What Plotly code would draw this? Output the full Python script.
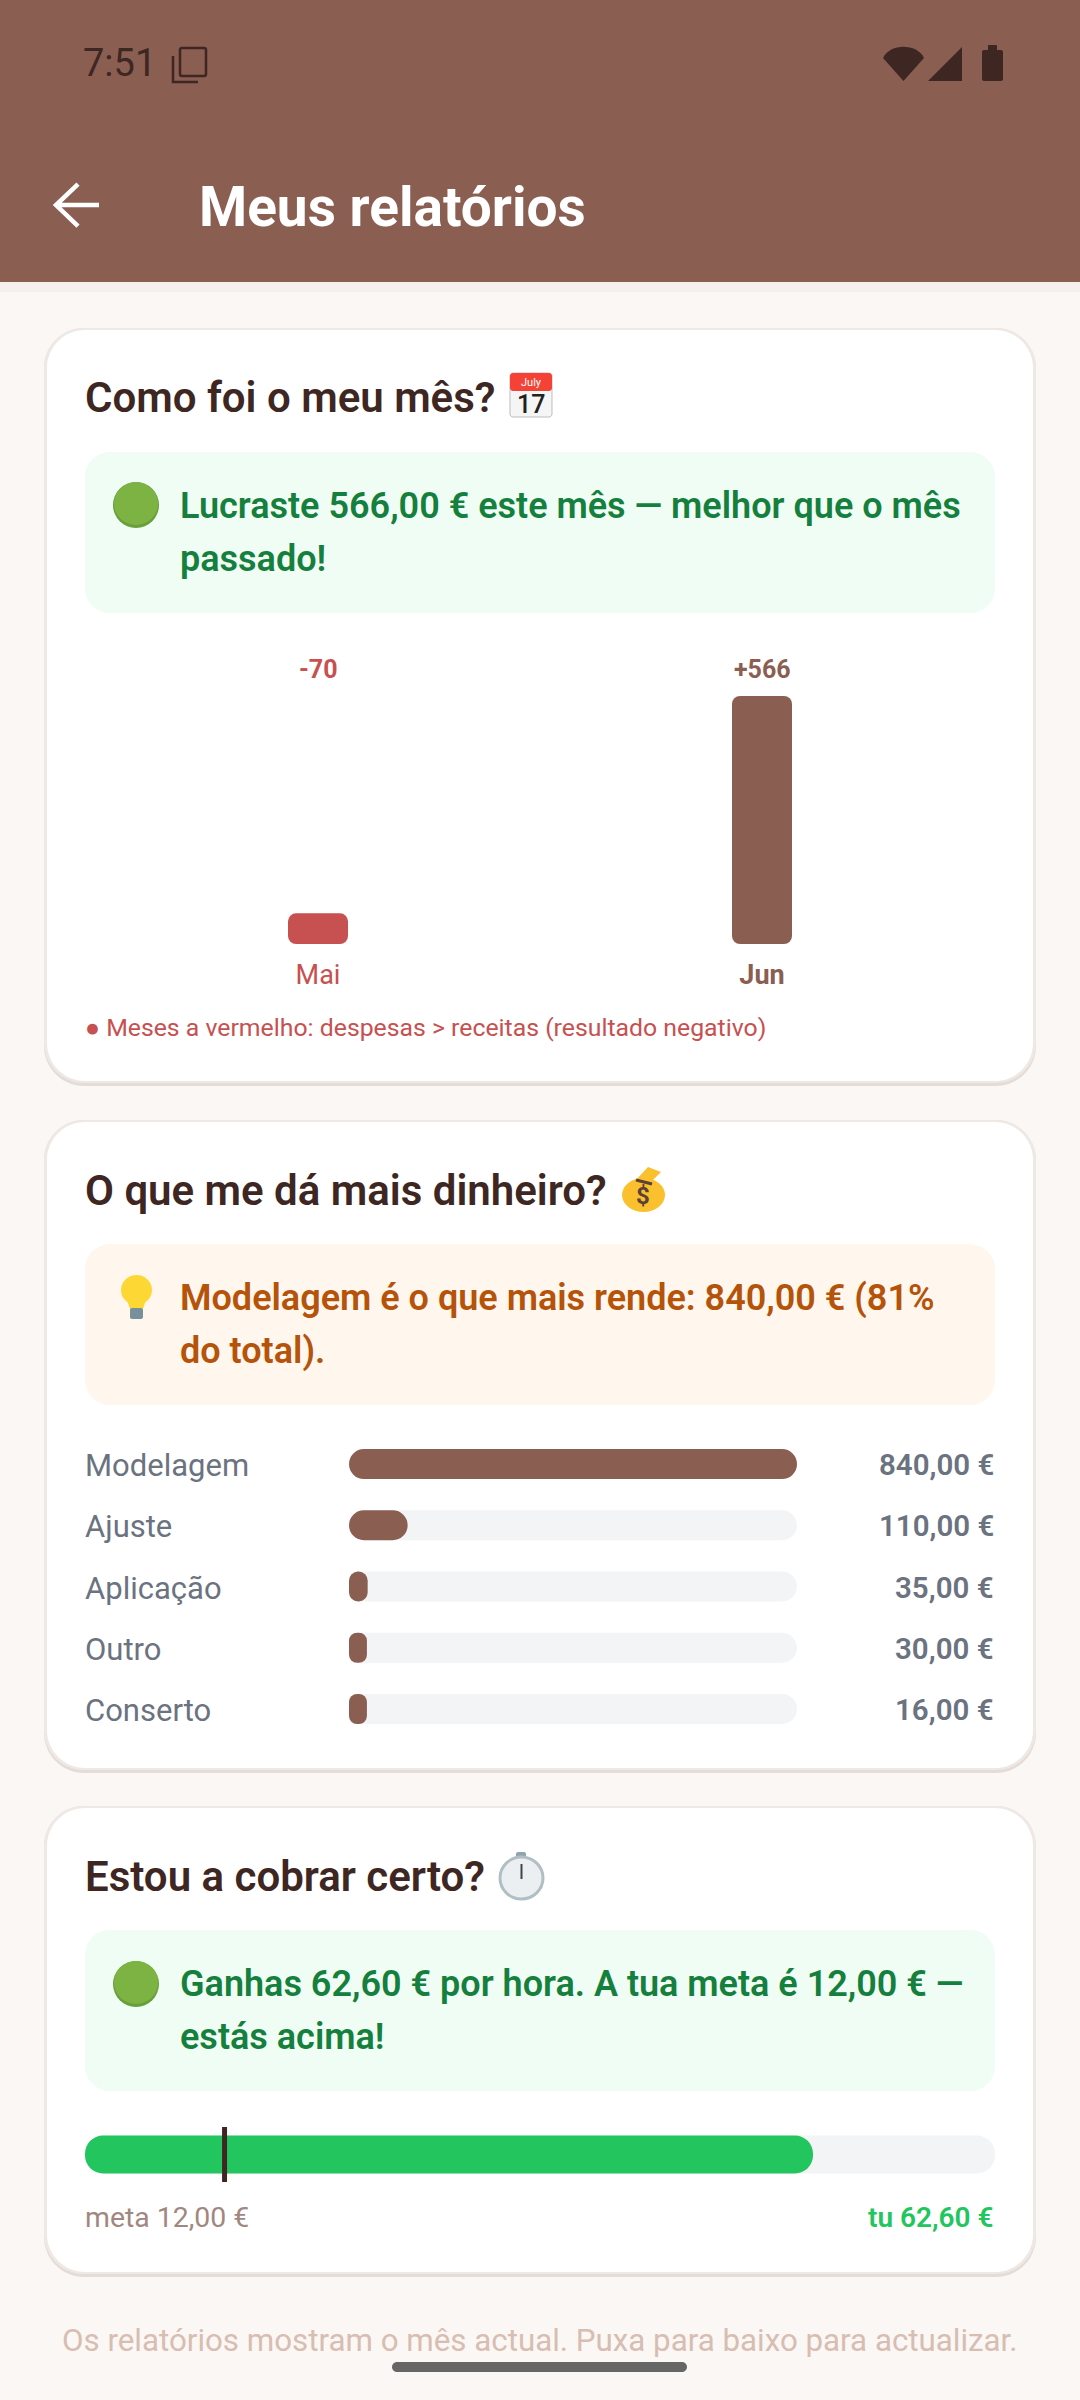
import plotly.graph_objects as go

W, H = 1080, 2400

# Data
months = ["Mai", "Jun"]
month_result = [-70, 566]

services = ["Modelagem", "Ajuste", "Aplicação", "Outro", "Conserto"]
service_income = [840, 110, 35, 30, 16]
min_bar_share = 0.04  # the app never draws a bar shorter than this

hourly_rate = 62.60
hourly_target = 12.00
gauge_max = 78.25

# Colours
BROWN = "#8B5E52"
DARK = "#3E2723"
RED = "#C75050"
GREY = "#6B7280"
TRACK = "#F3F4F6"
GREEN = "#22C55E"
GREEN_TXT = "#15803D"
ORANGE_TXT = "#B45309"
PAGE = "#FBF7F4"
FONT = "Roboto"


def euro(v):
    return f"{v:.2f}".replace(".", ",") + " €"


def X(x):
    return x / W


def Y(y):
    return 1 - y / H


shapes = []
annotations = []


def path_shape(d, fill=None, line=None, lw=0):
    shapes.append(dict(type="path", path=d, xref="paper", yref="paper", layer="below",
                       fillcolor=fill or "rgba(0,0,0,0)",
                       line=dict(color=line or "rgba(0,0,0,0)", width=lw)))


def pts(*coords):
    return " ".join(f"{X(a):.5f},{Y(b):.5f}" for a, b in coords)


def rrect(x0, y0, x1, y1, r, fill=None, line=None, lw=0):
    k = r * 0.45
    d = (f"M{pts((x0 + r, y0))} L{pts((x1 - r, y0))} "
         f"C{pts((x1 - k, y0), (x1, y0 + k), (x1, y0 + r))} L{pts((x1, y1 - r))} "
         f"C{pts((x1, y1 - k), (x1 - k, y1), (x1 - r, y1))} L{pts((x0 + r, y1))} "
         f"C{pts((x0 + k, y1), (x0, y1 - k), (x0, y1 - r))} L{pts((x0, y0 + r))} "
         f"C{pts((x0, y0 + k), (x0 + k, y0), (x0 + r, y0))} Z")
    path_shape(d, fill, line, lw)


def circle(x0, y0, x1, y1, fill, line=None, lw=0):
    shapes.append(dict(type="circle", xref="paper", yref="paper", layer="below",
                       x0=X(x0), x1=X(x1), y0=Y(y0), y1=Y(y1), fillcolor=fill,
                       line=dict(color=line or "rgba(0,0,0,0)", width=lw)))


def txt(x, y, text, size, color, weight=400, anchor="left"):
    annotations.append(dict(xref="paper", yref="paper", x=X(x), y=Y(y), text=text, showarrow=False,
                            xanchor=anchor, yanchor="middle", borderpad=0, borderwidth=0,
                            font=dict(family=FONT, size=size, color=color, weight=weight)))


def green_dot(cx, cy):
    circle(cx - 23, cy - 23, cx + 23, cy + 23, "#689F38")
    circle(cx - 22, cy - 23, cx + 22, cy + 20, "#7CB342")


def card(y0, y1):
    rrect(44, y0, 1036, y1 + 3, 40, "#E4DCD8")
    rrect(44, y0, 1036, y1, 40, "#EFE9E5")
    rrect(47, y0 + 2, 1033, y1 - 2, 38, "#FFFFFF")


# an explicit base makes plotly round both ends of the bar, not just the tip
def pill_h(fig, cats, lengths, color, width, radius, xa, ya):
    fig.add_trace(go.Bar(y=cats, x=lengths, base=[0] * len(cats), orientation="h", width=width,
                         xaxis=xa, yaxis=ya, marker=dict(color=color, cornerradius=radius, line=dict(width=0))))


# Page furniture
rrect(0, 282, W, 292, 1, "#F5F0ED")
path_shape(f"M{pts((0, 0))} L{pts((W, 0))} L{pts((W, 282))} L{pts((0, 282))} Z", BROWN)

txt(83, 63, "7:51", 38, DARK)
rrect(180, 48, 206, 76, 2, None, DARK, 2.5)
path_shape(f"M{pts((173, 56))} L{pts((173, 82))} L{pts((198, 82))}", None, DARK, 2.5)
path_shape(f"M{pts((883, 58))} C{pts((890, 43), (917, 43), (924, 58))} L{pts((903.5, 81))} Z", DARK)
path_shape(f"M{pts((962, 47))} L{pts((962, 81))} L{pts((928, 81))} Z", DARK)
rrect(982, 50, 1003, 81, 2, DARK)
rrect(988, 45, 997, 52, 1, DARK)

path_shape(f"M{pts((56, 205))} L{pts((99, 205))} M{pts((78, 184))} L{pts((56, 205))} L{pts((78, 226))}",
           None, "#FFFFFF", 4.5)
txt(199, 207, "Meus relatórios", 55, "#FFFFFF", 700)

# Card 1
card(328, 1083)
txt(85, 397, "Como foi o meu mês?", 42, DARK, 600)
rrect(510, 373, 552, 417, 3, "#F5F5F5", "#BDBDBD", 1)
rrect(510, 373, 552, 391, 3, "#F44336")
txt(531, 382, "July", 11, "#FFFFFF", 400, "center")
txt(531, 404, "17", 25, "#212121", 500, "center")

rrect(85, 452, 995, 613, 25, "#F0FDF4")
green_dot(136, 505)
txt(180, 506, "Lucraste 566,00 € este mês — melhor que o mês", 36, GREEN_TXT, 600)
txt(180, 559, "passado!", 36, GREEN_TXT, 600)
txt(85, 1027, "● Meses a vermelho: despesas &gt; receitas (resultado negativo)", 24.8, RED)

# Card 2
card(1120, 1770)
txt(85, 1190, "O que me dá mais dinheiro?", 42, DARK, 600)
circle(622, 1178, 665, 1212, "#FBC02D")
path_shape(f"M{pts((634, 1182))} L{pts((648, 1167))} L{pts((661, 1172))} L{pts((650, 1183))} Z", "#FBC02D")
path_shape(f"M{pts((636, 1180))} L{pts((652, 1184))}", None, "#5D4037", 3)
txt(643, 1196, "$", 24, "#5D4037", 700, "center")

rrect(85, 1244, 995, 1405, 25, "#FFF7ED")
circle(121, 1275, 152, 1305, "#FDD835")
path_shape(f"M{pts((127, 1300))} L{pts((146, 1300))} L{pts((143, 1309))} L{pts((130, 1309))} Z", "#FDD835")
rrect(130, 1308, 143, 1319, 2, "#78909C")
txt(180, 1298, "Modelagem é o que mais rende: 840,00 € (81%", 36, ORANGE_TXT, 600)
txt(180, 1351, "do total).", 36, ORANGE_TXT, 600)

# Card 3
card(1806, 2274)
txt(85, 1876, "Estou a cobrar certo?", 42, DARK, 600)
rrect(516, 1852, 526, 1859, 2, "#90A4AE")
circle(500, 1857, 543, 1899, "#ECEFF1", "#B0BEC5", 3)
path_shape(f"M{pts((521.5, 1864))} L{pts((521.5, 1879))}", None, "#37474F", 2)

rrect(85, 1930, 995, 2091, 25, "#F0FDF4")
green_dot(136, 1984)
txt(180, 1984, "Ganhas 62,60 € por hora. A tua meta é 12,00 € —", 36, GREEN_TXT, 600)
txt(180, 2037, "estás acima!", 36, GREEN_TXT, 600)
txt(85, 2217, f"meta {euro(hourly_target)}", 28.4, "#A1887F")
txt(994, 2217, f"tu {euro(hourly_rate)}", 28, GREEN, 600, "right")

# Footer
txt(540, 2340, "Os relatórios mostram o mês actual. Puxa para baixo para actualizar.", 31.3, "#D7BDB2", 400, "center")
rrect(392, 2362, 687, 2372, 5, "#666666")

# Monthly bars
month_colors = [RED if v < 0 else BROWN for v in month_result]
fig = go.Figure()
fig.add_trace(go.Bar(x=months, y=[abs(v) for v in month_result], base=[0, 0], width=60 / 444, xaxis="x", yaxis="y",
                     marker=dict(color=month_colors, cornerradius=8, line=dict(width=0))))
for m, v, c in zip(months, month_result, month_colors):
    annotations.append(dict(xref="x", yref="paper", x=m, y=Y(669), text=f"{v:+d}", showarrow=False,
                            xanchor="center", yanchor="middle",
                            font=dict(family=FONT, size=25, color=c, weight=700)))

# Income per service, with a track behind each bar
drawn_income = [max(v, max(service_income) * min_bar_share) for v in service_income]
pill_h(fig, services, [max(service_income)] * len(services), TRACK, 0.49, 15, "x2", "y2")
pill_h(fig, services, drawn_income, BROWN, 0.49, 15, "x2", "y2")
row_y = [1465, 1526, 1588, 1649, 1710]
for s, v, y in zip(services, service_income, row_y):
    txt(85, y, s, 31, GREY)
    txt(994, y, euro(v), 29.5, GREY, 600, "right")

# Hourly rate gauge
pill_h(fig, [0], [gauge_max], TRACK, 0.69, 19, "x3", "y3")
pill_h(fig, [0], [hourly_rate], GREEN, 0.69, 19, "x3", "y3")
fig.add_trace(go.Scatter(x=[hourly_target, hourly_target], y=[-0.5, 0.5], mode="lines", xaxis="x3", yaxis="y3",
                         line=dict(color=DARK, width=5)))


def x_dom(a, b):
    return [a / W, b / W]


def y_dom(top, bottom):
    return [1 - bottom / H, 1 - top / H]


hidden = dict(showgrid=False, zeroline=False, showticklabels=False, ticks="", showline=False, fixedrange=True)
fig.update_layout(
    width=W, height=H, margin=dict(l=0, r=0, t=0, b=0, pad=0), autosize=False,
    paper_bgcolor=PAGE, plot_bgcolor="rgba(0,0,0,0)", showlegend=False, barmode="overlay",
    font=dict(family=FONT), shapes=shapes, annotations=annotations,
    xaxis=dict(domain=x_dom(96, 984), type="category", categoryorder="array", categoryarray=months,
               range=[-0.5, 1.5], tickmode="array", tickvals=months,
               ticktext=[f'<span style="color:{RED}">Mai</span>', f'<b style="color:{BROWN}">Jun</b>'],
               tickfont=dict(family=FONT, size=27), ticks="outside", ticklen=7, tickcolor="rgba(0,0,0,0)",
               showgrid=False, zeroline=False, showline=False),
    yaxis=dict(domain=y_dom(696, 944), range=[0, 566], **hidden),
    xaxis2=dict(domain=x_dom(349, 797), range=[0, 840], **hidden),
    yaxis2=dict(domain=y_dom(1433.4, 1739.6), autorange="reversed", type="category", anchor="x2", **hidden),
    xaxis3=dict(domain=x_dom(85, 995), range=[0, gauge_max], anchor="y3", **hidden),
    yaxis3=dict(domain=y_dom(2127, 2182), range=[-0.5, 0.5], type="linear", anchor="x3", **hidden),
)
fig.layout.xaxis2.anchor = "y2"

fig.write_html("out.html", config=dict(displayModeBar=False), post_script="document.body.style.margin='0';")
